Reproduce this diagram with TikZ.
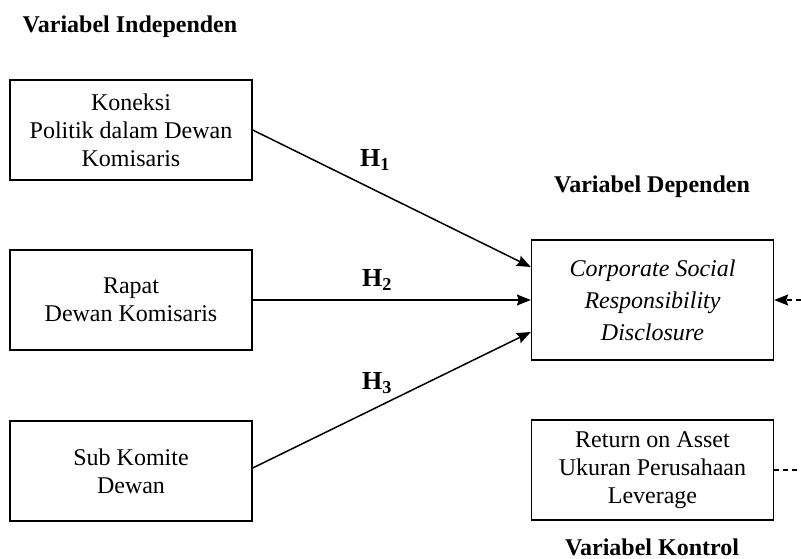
\documentclass[tikz,border=0pt]{standalone}
\usepackage{fontspec}
\setmainfont{Liberation Serif}
\usetikzlibrary{arrows.meta}
\begin{document}
\begin{tikzpicture}[x=1pt,y=-1pt,
  varbox/.style={draw, line width=1.4pt, minimum width=242pt, minimum height=100pt, inner sep=0pt, align=center, font=\fontsize{24}{28}\selectfont},
  title/.style={font=\fontsize{24}{28}\selectfont\bfseries, inner sep=0pt},
  hlabel/.style={font=\fontsize{26}{28}\selectfont\bfseries, inner sep=0pt},
  conn/.style={line width=1.5pt, -{Stealth[length=14pt,width=11pt,inset=2pt]}},
  dconn/.style={line width=1.2pt, dash pattern=on 5pt off 4pt}
]
\useasboundingbox (0,0) rectangle (801,559);
\node[title] (tind) at (130,27) {Variabel Independen};
\node[title] (tdep) at (652,187) {Variabel Dependen};
\node[title] (tkon) at (652,547) {Variabel Kontrol};

\node[varbox] (b1) at (131,130) {Koneksi\\Politik dalam Dewan\\Komisaris};
\node[varbox] (b2) at (131,300) {Rapat\\Dewan Komisaris};
\node[varbox] (b3) at (131,471) {Sub Komite\\Dewan};

\node[varbox, minimum height=120pt, font=\fontsize{24}{32}\selectfont\itshape] (csr) at (652.5,300) {Corporate Social\\Responsibility\\Disclosure};
\node[varbox] (ctl) at (652.5,470) {Return on Asset\\Ukuran Perusahaan\\Leverage};

\coordinate (d1) at (801,300);
\coordinate (d2) at (801,470);

\draw[conn] (b1.east) -- (csr.west |- 0,267);
\draw[conn] (b2.east) -- (csr.west);
\draw[conn] (b3.east |- 0,468) -- (csr.west |- 0,332);

\draw[dconn, -{Stealth[length=14pt,width=11pt,inset=2pt]}] (d1) -- (csr.east);
\draw[dconn] (ctl.east) -- (d2);

\node[hlabel] (h1) at (375,160) {H\textsubscript{1}};
\node[hlabel] (h2) at (377,280) {H\textsubscript{2}};
\node[hlabel] (h3) at (377,383) {H\textsubscript{3}};
\end{tikzpicture}
\end{document}
